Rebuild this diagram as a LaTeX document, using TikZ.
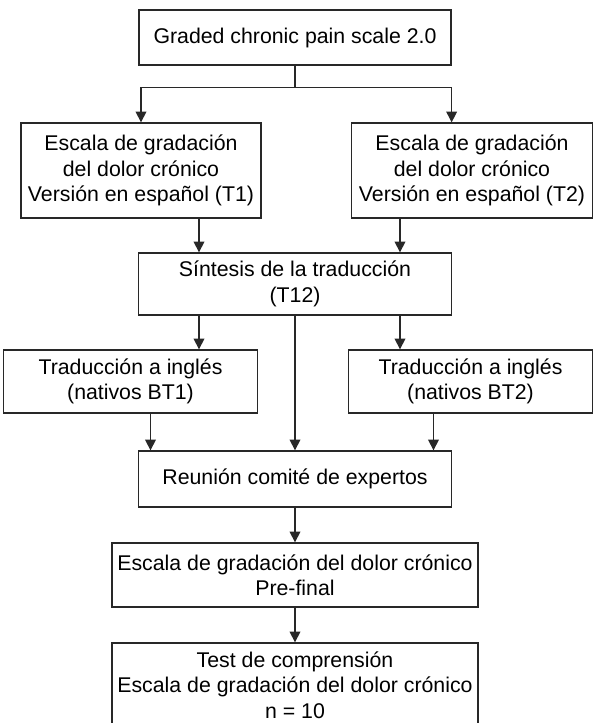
\documentclass[tikz,border=0pt]{standalone}
\usepackage{fontspec}
\setmainfont{Liberation Sans}
\usepackage{xcolor}
\usepackage{tikz}
\usetikzlibrary{calc, arrows.meta, positioning}
\definecolor{lin}{RGB}{40, 40, 40}
\tikzset{
    boxnode/.style = {draw=lin, line width=0.65pt, rectangle, inner sep = 0em, node distance=0em,
      font=\fontsize{10.65pt}{12.7pt}\selectfont},
    connect/.style = {lin, line width=0.6pt, -{Triangle[length=5.4pt, width=5.4pt]}},
    every text node part/.style={align=center}
}

\begin{document}
\begin{tikzpicture}
\useasboundingbox (-147.5pt, 18.75pt) rectangle (150pt, -342.75pt);

\node[boxnode, name=top, minimum width=156pt, minimum height=27.5pt] {Graded chronic pain scale 2.0};

\node[boxnode, name=T1, below of = top, xshift=-77pt, yshift=-66.5pt,
	minimum width=120pt, minimum height=47.5pt] {Escala de gradación\\del dolor crónico\\Versión en español (T1)};
\node[boxnode, name=T2, below of = top, xshift=88.5pt, yshift=-66.5pt,
	minimum width=120.5pt, minimum height=47.5pt] {Escala de gradación\\del dolor crónico\\Versión en español (T2)};

\node[boxnode, name=synth, below of = top, yshift=-123.25pt,
	minimum width=156.5pt, minimum height=31pt] {Síntesis de la traducción\\(T12)};

\node[boxnode, name=BT1, below of = synth, xshift=-82.25pt, yshift=-48.75pt,
	minimum width=126.75pt, minimum height=31.5pt] {Traducción a inglés\\(nativos BT1)};
\node[boxnode, name=BT2, below of = synth, xshift=87.75pt, yshift=-48.75pt,
	minimum width=122pt, minimum height=31.5pt] {Traducción a inglés\\(nativos BT2)};

\node[boxnode, name=meeting, below of = synth, yshift=-97.5pt,
	minimum width=156.5pt, minimum height=28pt] {Reunión comité de expertos};

\node[boxnode, name=prefinal, below of = meeting, yshift=-48pt,
	minimum width=183pt, minimum height=32pt] {Escala de gradación del dolor crónico\\Pre-final};

\node[boxnode, name=test, below of = prefinal, yshift=-55pt,
	minimum width=183pt, minimum height=42pt] {Test de comprensión\\Escala de gradación del dolor crónico\\n = 10};

% split below the first box
\coordinate (split) at ($(top.south)+(0pt, -11pt)$);
\draw[lin, line width=0.6pt] (top.south) -- (split);
\draw[connect] (split) -| (T1.north);
\draw[connect] (split) -| (T2.north -| top.east);

\coordinate (a1) at ($(T1.south)+(29pt, 0pt)$);
\coordinate (a2) at ($(T2.south)+(-36pt, 0pt)$);
\draw[connect] (a1) -- (a1 |- synth.north);
\draw[connect] (a2) -- (a2 |- synth.north);

\draw[connect] (a1 |- synth.south) -- (a1 |- BT1.north);
\draw[connect] (a2 |- synth.south) -- (a2 |- BT2.north);
\draw[connect] (synth.south) -- (meeting.north);

\coordinate (b1) at ($(BT1.south)+(10pt, 0pt)$);
\coordinate (b2) at ($(BT2.south)+(-18.5pt, 0pt)$);
\draw[connect] (b1) -- (b1 |- meeting.north);
\draw[connect] (b2) -- (b2 |- meeting.north);

\draw[connect] (meeting.south) -- (prefinal.north);
\draw[connect] (prefinal.south) -- (test.north);
\end{tikzpicture}
\end{document}
